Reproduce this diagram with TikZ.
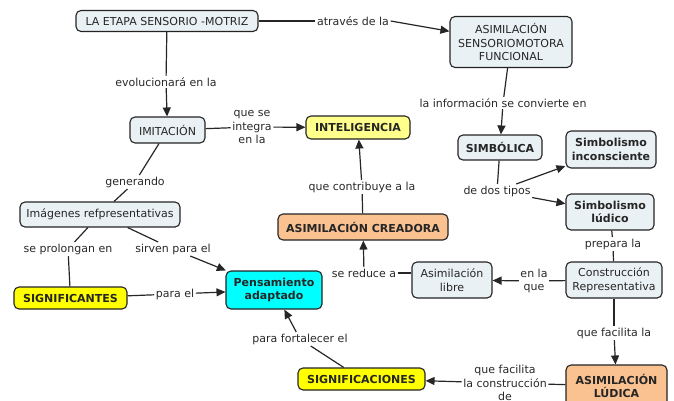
\documentclass[tikz,border=0pt]{standalone}
\usepackage{fontspec}
\setmainfont{DejaVu Sans}
\usetikzlibrary{arrows.meta}
\definecolor{boxblue}{RGB}{234,241,244}
\definecolor{pyellow}{RGB}{255,255,140}
\definecolor{byellow}{RGB}{255,255,0}
\definecolor{porange}{RGB}{250,193,145}
\definecolor{pcyan}{RGB}{0,255,255}
\definecolor{bordercol}{RGB}{35,35,35}
\definecolor{labcol}{RGB}{40,40,40}
\begin{document}
\begin{tikzpicture}[x=1pt,y=-1pt,
  font=\fontsize{11}{13.5}\selectfont,
  box/.style={draw=bordercol, line width=1.1pt, rounded corners=5pt, fill=boxblue,
    align=center, inner sep=0pt, text=black!85},
  boldbox/.style={box, font=\fontsize{11}{13.5}\selectfont\bfseries},
  lab/.style={align=center, inner sep=1.5pt, text=labcol},
  conn/.style={line width=1.2pt, black!85},
  arr/.style={conn, -{Triangle[length=9pt,width=8pt]}}
]
\useasboundingbox (0,0) rectangle (674,400);
% boxes
\node[box, minimum width=182pt, minimum height=21pt] (etapa) at (167,21) {LA ETAPA SENSORIO -MOTRIZ};
\node[box, minimum width=122pt, minimum height=51pt] (asf) at (511,42) {ASIMILACIÓN\\SENSORIOMOTORA\\FUNCIONAL};
\node[boldbox, minimum width=84pt, minimum height=25pt] (simb) at (500,147.5) {SIMBÓLICA};
\node[boldbox, minimum width=90pt, minimum height=37pt] (sinc) at (611,149.5) {Simbolismo\\inconsciente};
\node[boldbox, minimum width=88pt, minimum height=36pt] (slud) at (610,212) {Simbolismo\\lúdico};
\node[box, minimum width=96pt, minimum height=36pt] (constr) at (614,280) {Construcción\\Representativa};
\node[box, minimum width=80pt, minimum height=36pt] (alibre) at (452,280) {Asimilación\\libre};
\node[boldbox, fill=porange, minimum width=170pt, minimum height=26pt] (acrea) at (363,227) {ASIMILACIÓN CREADORA};
\node[boldbox, fill=pyellow, minimum width=104pt, minimum height=23pt] (intel) at (358,127.5) {INTELIGENCIA};
\node[box, minimum width=75pt, minimum height=26pt] (imit) at (167.5,130) {IMITACIÓN};
\node[box, minimum width=160pt, minimum height=25pt] (imag) at (100,214.5) {Imágenes refpresentativas};
\node[boldbox, fill=byellow, minimum width=113pt, minimum height=22pt] (signif) at (70.5,298) {SIGNIFICANTES};
\node[boldbox, fill=pcyan, minimum width=96pt, minimum height=38pt] (pens) at (274,290) {Pensamiento\\adaptado};
\node[boldbox, fill=byellow, minimum width=127pt, minimum height=22pt] (signific) at (361.5,379) {SIGNIFICACIONES};
\node[boldbox, fill=porange, minimum width=101pt, minimum height=42pt] (alud) at (616.5,386) {ASIMILACIÓN\\LÚDICA};
% labels
\node[lab] (atraves) at (353,21) {através de la};
\node[lab] (evol) at (166,82) {evolucionará en la};
\node[lab] (queseint) at (252,127) {que se\\integra\\en la};
\node[lab] (lainfo) at (503,103) {la información se convierte en};
\node[lab] (dostipos) at (497,191) {de dos tipos};
\node[lab] (generando) at (135,182) {generando};
\node[lab] (quecontrib) at (362,187) {que contribuye a la};
\node[lab] (seprol) at (68,249) {se prolongan en};
\node[lab] (sirven) at (173,249) {sirven para el};
\node[lab] (prepara) at (613,244) {prepara la};
\node[lab] (sereduce) at (364,273) {se reduce a};
\node[lab] (enlaque) at (534,281) {en la\\que};
\node[lab] (parael) at (175,294) {para el};
\node[lab] (parafort) at (300,339) {para fortalecer el};
\node[lab] (quefac) at (614,333) {que facilita la};
\node[lab] (quefacde) at (505,383) {que facilita\\la construcción\\de};
% connectors
\draw[conn] (etapa) -- (atraves);
\draw[arr] (atraves.east) -- (asf);
\draw[conn] (etapa) -- (evol);
\draw[arr] (evol) -- (imit);
\draw[conn] (imit) -- (queseint);
\draw[arr] (queseint) -- (intel);
\draw[conn] (asf) -- (lainfo);
\draw[arr] (lainfo) -- (simb);
\draw[conn] (simb) -- (dostipos);
\draw[arr] (dostipos) -- (sinc);
\draw[arr] (dostipos) -- (slud);
\draw[conn] (slud) -- (prepara);
\draw[conn] (prepara) -- (constr);
\draw[conn] (constr) -- (enlaque);
\draw[arr] (enlaque) -- (alibre);
\draw[conn] (sereduce.east) -- (sereduce.east -| alibre.west);
\draw[arr] (sereduce) -- (acrea);
\draw[conn] (acrea) -- (quecontrib);
\draw[arr] (quecontrib) -- (intel);
\draw[conn] (imit) -- (generando);
\draw[conn] (generando) -- (imag);
\draw[conn] (imag) -- (seprol);
\draw[conn] (seprol) -- (signif);
\draw[conn] (imag) -- (sirven);
\draw[arr] (sirven) -- (pens);
\draw[conn] (signif) -- (parael);
\draw[arr] (parael) -- (pens);
\draw[conn] (signific) -- (parafort);
\draw[arr] (parafort) -- (pens);
\draw[conn] (alud) -- (quefacde);
\draw[arr] (quefacde) -- (signific);
\draw[conn] (constr) -- (quefac);
\draw[arr] (quefac) -- (alud);
\end{tikzpicture}
\end{document}
